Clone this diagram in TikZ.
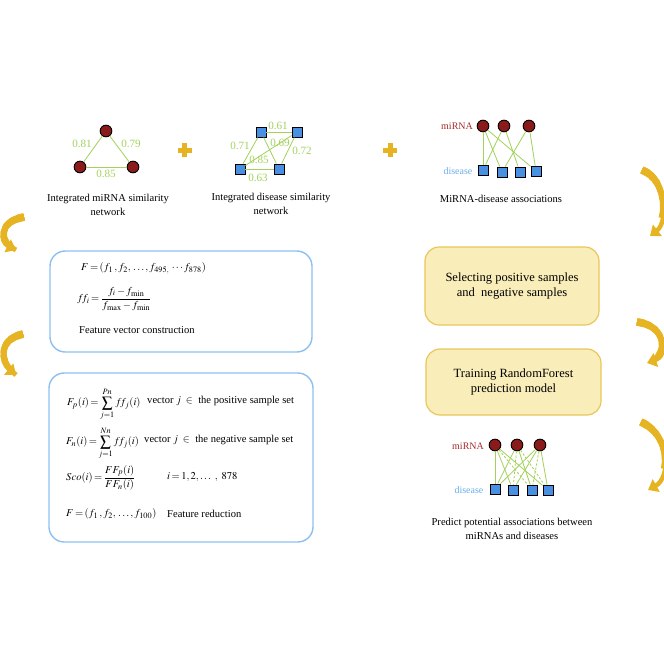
\documentclass[tikz,border=0pt]{standalone}
\usepackage{amsmath}
\usepackage{mathptmx}
\usepackage{fontspec}
\setmainfont{Liberation Serif}
\usetikzlibrary{arrows.meta}
\definecolor{mired}{HTML}{8B1A1A}
\definecolor{disblue}{HTML}{4A90E2}
\definecolor{edgegreen}{HTML}{A3D15C}
\definecolor{boxblue}{HTML}{8CC0F2}
\definecolor{boxyellow}{HTML}{F9EDB9}
\definecolor{boxyelline}{HTML}{E9C65C}
\definecolor{goldc}{HTML}{E6B422}
\definecolor{labred}{HTML}{A52A2A}
\definecolor{labblue}{HTML}{6AAEE8}
\newcommand\tightmu{\thickmuskip=2.5mu\relax\medmuskip=2mu\relax}
\tikzset{
  mirna/.style={circle, draw=black, line width=0.8pt, fill=mired, minimum size=10pt, inner sep=0pt},
  disnode/.style={rectangle, draw=black, line width=0.8pt, fill=disblue, minimum size=8.5pt, inner sep=0pt},
  link/.style={edgegreen, line width=0.7pt},
  dlink/.style={edgegreen, line width=0.7pt, dash pattern=on 2pt off 1.5pt},
  wlab/.style={text=edgegreen, font=\fontsize{9.5}{10}\selectfont, inner sep=1pt},
  capt/.style={align=center, font=\fontsize{9}{12}\selectfont, inner sep=0pt},
  bluebox/.style={draw=boxblue, line width=1.2pt, rounded corners=13pt},
  yelbox/.style={draw=boxyelline, fill=boxyellow, line width=1pt, rounded corners=12pt, align=center, font=\fontsize{10.7}{13}\selectfont},
  goldarrow/.style={draw=goldc, line width=3.8pt, -{Triangle[width=12pt,length=8pt]}},
  eqn/.style={anchor=west, inner sep=0pt, font=\fontsize{9}{11}\selectfont},
  redlab/.style={text=labred, font=\fontsize{8.5}{10}\selectfont},
  bluelab/.style={text=labblue, font=\fontsize{8.5}{10}\selectfont},
}
\newcommand\taperarrow[1]{%
  \foreach \w/\l in {6.6/6,6.2/12,5.8/18,5.4/25,5.0/32,4.6/40,4.2/48}{%
    \draw[goldc, line width=\w pt, dash pattern=on \l pt off 500pt] #1;}%
  \draw[goldarrow] #1;}
\begin{document}
\begin{tikzpicture}[x=0.03cm, y=-0.03cm]
\useasboundingbox (0,0) rectangle (664,664);
% --- miRNA similarity triangle
\node[mirna] (t1) at (106,131) {};
\node[mirna] (t2) at (80,167) {};
\node[mirna] (t3) at (133,167) {};
\draw[link] (t1) -- (t2);
\draw[link] (t1) -- (t3);
\draw[link] (t2) -- (t3);
\node[wlab] (l81) at (82,144) {0.81};
\node[wlab] (l79) at (131,144) {0.79};
\node[wlab] (l85) at (106,174) {0.85};
\node[capt] (c1) at (108,205) {Integrated miRNA similarity\\network};
% plus 1
\fill[goldc] (177.5,147.5) rectangle (191.5,152.5);
\fill[goldc] (182,143) rectangle (187,157);
% --- disease similarity network
\node[disnode] (d1) at (261,132) {};
\node[disnode] (d2) at (297,132) {};
\node[disnode] (d3) at (240,169) {};
\node[disnode] (d4) at (279,169) {};
\draw[link] (d1) -- (d2);
\draw[link] (d1) -- (d3);
\draw[link] (d1) -- (d4);
\draw[link] (d2) -- (d3);
\draw[link] (d2) -- (d4);
\draw[link] (d3) -- (d4);
\node[wlab] (l61) at (278,126) {0.61};
\node[wlab] (l71) at (240,146) {0.71};
\node[wlab] (l69) at (280,143) {0.69};
\node[wlab] (l72) at (302,151) {0.72};
\node[wlab] (l85b) at (259,160) {0.85};
\node[wlab] (l63) at (258,178) {0.63};
\node[capt] (c2) at (271,204) {Integrated disease similarity\\network};
% plus 2
\fill[goldc] (383,147.5) rectangle (397,152.5);
\fill[goldc] (387.5,143) rectangle (392.5,157);
% --- miRNA-disease associations
\node[redlab] (ml1) at (457,126) {miRNA};
\node[bluelab] (dl1) at (458,171) {disease};
\node[mirna] (a1) at (483,126) {};
\node[mirna] (a2) at (504,126) {};
\node[mirna] (a3) at (529,126) {};
\node[disnode] (b1) at (483,170) {};
\node[disnode] (b2) at (502,172) {};
\node[disnode] (b3) at (520,172) {};
\node[disnode] (b4) at (536,171) {};
\draw[link] (a1) -- (b1);
\draw[link] (a1) -- (b2);
\draw[link] (a1) -- (b4);
\draw[link] (a2) -- (b1);
\draw[link] (a2) -- (b3);
\draw[link] (a3) -- (b2);
\draw[link] (a3) -- (b4);
\node[capt] (c3) at (501,199) {MiRNA-disease associations};
% --- left boxes
\node[bluebox, minimum width=7.86cm, minimum height=3.03cm] (box1) at (181,301.5) {};
\node[eqn] (e1) at (81,268) {$\tightmu F=(f_1\,,f_2,\,\ldots, f_{495,}\,\cdots f_{878})$};
\node[eqn] (e2) at (77,299) {$\tightmu f\!f_i=\dfrac{f_i-f_{\min}}{f_{\max}-f_{\min}}$};
\node[eqn] (e3) at (79,330) {Feature vector construction};
\node[bluebox, minimum width=7.92cm, minimum height=5.07cm] (box2) at (181,457.5) {};
\node[eqn] (p1) at (67,404) {$\tightmu F_p(i)=\displaystyle\sum_{j=1}^{Pn} f\!f_j(i)$};
\node[eqn] (p2) at (147,401) {vector $j\ \in\ $ the positive sample set};
\node[eqn] (n1) at (66,443) {$\tightmu F_n(i)=\displaystyle\sum_{j=1}^{Nn} f\!f_j(i)$};
\node[eqn] (n2) at (144,440) {vector $j\ \in\ $ the negative sample set};
\node[eqn] (s1) at (66,478) {$\tightmu Sco(i)=\dfrac{FF_p(i)}{FF_n(i)}$};
\node[eqn] (s2) at (167,477) {$\tightmu i=1,2,\ldots\ ,\ 878$};
\node[eqn] (r1) at (66,514) {$\tightmu F=(f_1\,,f_2,\,\ldots, f_{100})$};
\node[eqn] (r2) at (167,514) {Feature reduction};
% --- right boxes
\node[yelbox, minimum width=5.22cm, minimum height=2.34cm] (y1) at (512,286) {Selecting positive samples\\and\ \ negative samples};
\node[yelbox, minimum width=5.25cm, minimum height=1.98cm] (y2) at (513.5,382) {Training RandomForest\\prediction model};
% --- predicted associations
\node[redlab] (ml2) at (468,446) {miRNA};
\node[bluelab] (dl2) at (469,490) {disease};
\node[mirna] (m1) at (495,445) {};
\node[mirna] (m2) at (517,445) {};
\node[mirna] (m3) at (540,445) {};
\node[disnode] (q1) at (495,489) {};
\node[disnode] (q2) at (513,490) {};
\node[disnode] (q3) at (532,490) {};
\node[disnode] (q4) at (548,490) {};
\draw[link] (m1) -- (q1);
\draw[link] (m1) -- (q2);
\draw[dlink] (m1) -- (q3);
\draw[link] (m1) -- (q4);
\draw[link] (m2) -- (q1);
\draw[dlink] (m2) -- (q2);
\draw[link] (m2) -- (q3);
\draw[dlink] (m2) -- (q4);
\draw[link] (m3) -- (q1);
\draw[link] (m3) -- (q2);
\draw[dlink] (m3) -- (q3);
\draw[link] (m3) -- (q4);
\node[capt] (c4) at (512,529) {Predict potential associations between\\miRNAs and diseases};
% --- curved gold arrows
\taperarrow{(24,217) .. controls (-3,222) and (0,242) .. (16,250)}
\taperarrow{(23,334) .. controls (-3,340) and (0,362) .. (16,375)}
\taperarrow{(642,170) .. controls (668,180) and (668,222) .. (650,236)}
\taperarrow{(637,322) .. controls (668,326) and (668,356) .. (647,363)}
\taperarrow{(641,422) .. controls (672,436) and (670,478) .. (648,490)}
\end{tikzpicture}
\end{document}
